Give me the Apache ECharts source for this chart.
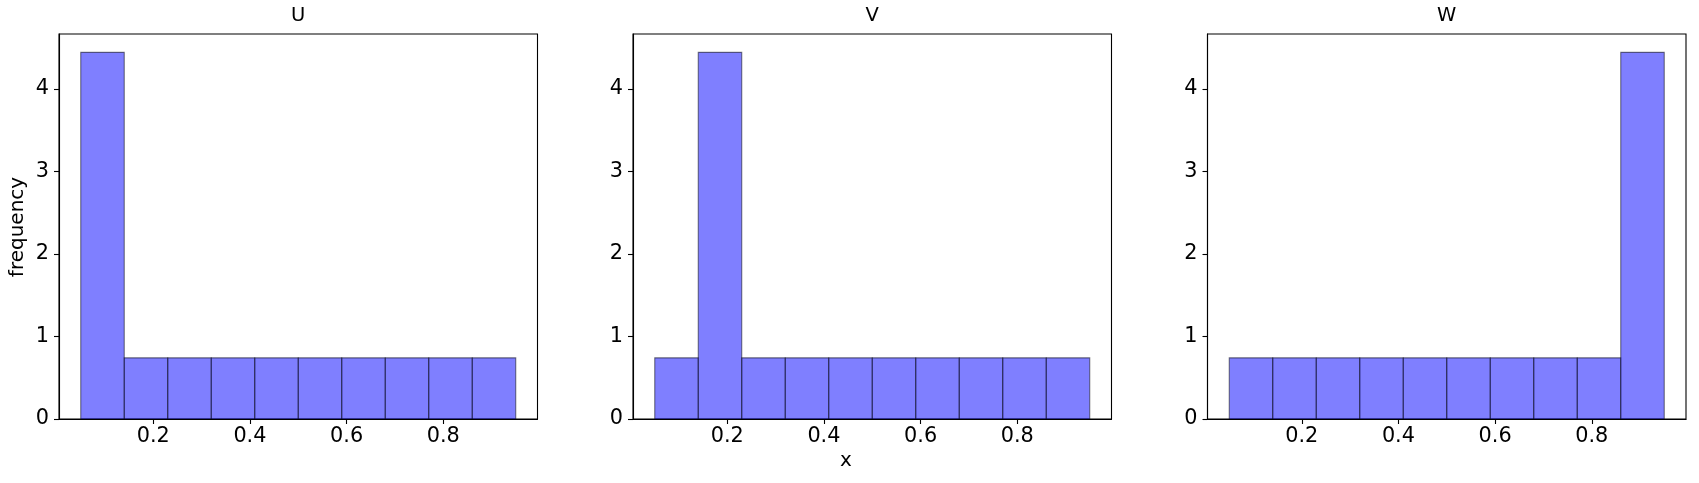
<!DOCTYPE html>
<html>
<head>
<meta charset="utf-8">
<script src="https://cdn.jsdelivr.net/npm/echarts@6/dist/echarts.min.js"></script>
<style>
  html, body { margin: 0; padding: 0; background: #fff; }
  #chart { width: 1699px; height: 483px; }
</style>
</head>
<body>
<div id="chart"></div>
<script>
// histogram bins (density)
const binEdges = [0.05, 0.14, 0.23, 0.32, 0.41, 0.5, 0.59, 0.68, 0.77, 0.86, 0.95]
const uDensity = [4.444, 0.741, 0.741, 0.741, 0.741, 0.741, 0.741, 0.741, 0.741, 0.741]
const vDensity = [0.741, 4.444, 0.741, 0.741, 0.741, 0.741, 0.741, 0.741, 0.741, 0.741]
const wDensity = [0.741, 0.741, 0.741, 0.741, 0.741, 0.741, 0.741, 0.741, 0.741, 4.444]
const panelTitles = ['U', 'V', 'W']
const xTicks = [0.2, 0.4, 0.6, 0.8]
const yTicks = [0, 1, 2, 3, 4]

const FONT = 'DejaVu Sans'
const panelLeft = [59, 633, 1207.5]
const panelWidth = 478.5
const gridTop = 34
const gridHeight = 385

const chart = echarts.init(document.getElementById('chart'), null, { renderer: 'canvas' })

function binRows(heights) {
  return heights.map((h, i) => [binEdges[i], binEdges[i + 1], h])
}

function renderBin(params, api) {
  const p0 = api.coord([api.value(0), api.value(2)])
  const p1 = api.coord([api.value(1), 0])
  return {
    type: 'rect',
    shape: { x: p0[0], y: p0[1], width: p1[0] - p0[0], height: p1[1] - p0[1] },
    style: { fill: 'rgba(0,0,255,0.5)', stroke: 'rgba(0,0,0,0.5)', lineWidth: 1.1 },
  }
}

const allData = [uDensity, vDensity, wDensity]

chart.setOption({
  animation: false,
  title: panelTitles.map((t, i) => ({
    text: t,
    left: panelLeft[i] + panelWidth / 2,
    textAlign: 'center',
    top: 6,
    padding: 0,
    textStyle: { color: '#000', fontSize: 19.5, fontWeight: 'normal', fontFamily: FONT },
  })),
  grid: panelLeft.map(l => ({
    left: l, top: gridTop, width: panelWidth, height: gridHeight,
    show: true, borderColor: '#000', borderWidth: 1.1, backgroundColor: 'transparent',
  })),
  xAxis: panelLeft.map((_, i) => ({
    type: 'value', gridIndex: i, min: 0.005, max: 0.995,
    splitLine: { show: false },
    axisLine: { show: true, lineStyle: { color: '#000', width: 1.1 } },
    axisTick: { show: true, length: 5, lineStyle: { color: '#000', width: 1.1 }, customValues: xTicks },
    axisLabel: {
      customValues: xTicks, margin: 7, color: '#000', fontSize: 20.8, fontFamily: FONT,
      formatter: v => v.toFixed(1),
    },
  })),
  yAxis: panelLeft.map((_, i) => ({
    type: 'value', gridIndex: i, min: 0, max: 4.6667,
    splitLine: { show: false },
    axisLine: { show: true, lineStyle: { color: '#000', width: 1.1 } },
    axisTick: { show: true, length: 5, lineStyle: { color: '#000', width: 1.1 }, customValues: yTicks },
    axisLabel: { customValues: yTicks, margin: 10, color: '#000', fontSize: 20.8, fontFamily: FONT },
  })),
  series: allData.map((d, i) => ({
    type: 'custom',
    xAxisIndex: i, yAxisIndex: i,
    renderItem: renderBin,
    data: binRows(d),
    encode: { x: [0, 1], y: 2 },
  })),
  graphic: [
    {
      type: 'text', x: 18, y: 227, rotation: Math.PI / 2,
      style: { text: 'frequency', fill: '#000', fontSize: 20, fontFamily: FONT, textAlign: 'center', textVerticalAlign: 'middle' },
    },
    {
      type: 'text', x: 846, y: 461,
      style: { text: 'x', fill: '#000', fontSize: 20, fontFamily: FONT, textAlign: 'center', textVerticalAlign: 'middle' },
    },
  ],
})

window.addEventListener('resize', () => chart.resize())
</script>
</body>
</html>
